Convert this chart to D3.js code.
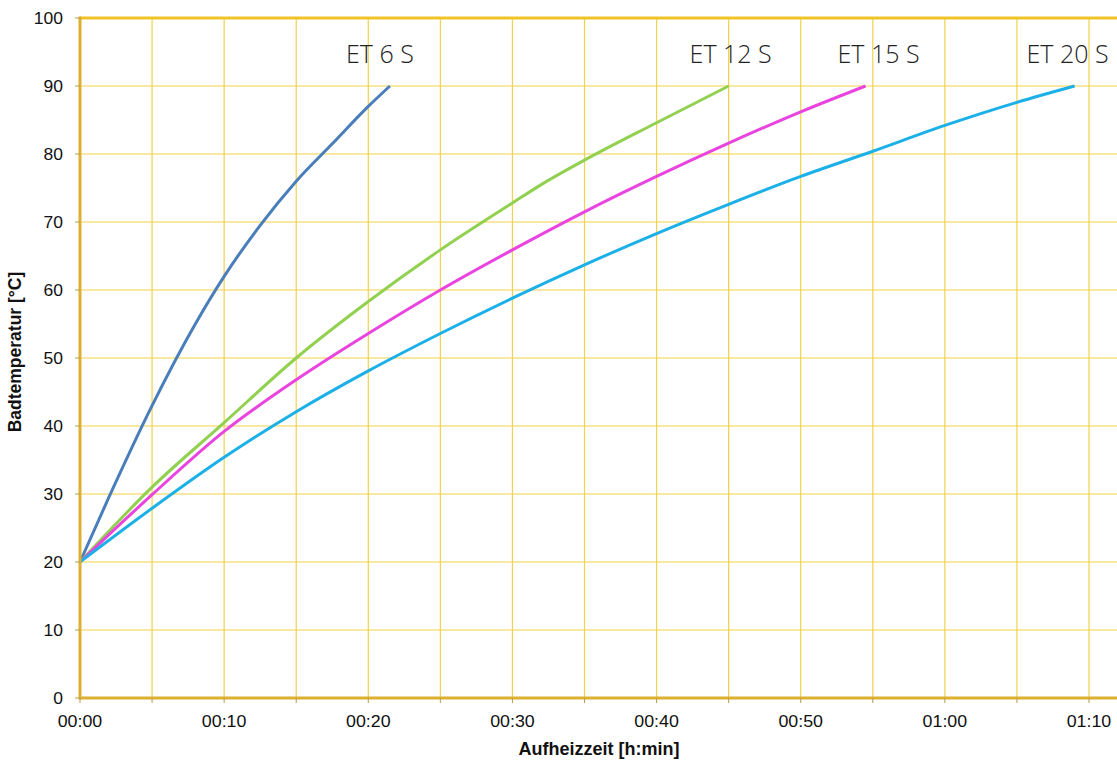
<!DOCTYPE html>
<html><head><meta charset="utf-8">
<script src="https://cdn.jsdelivr.net/npm/d3@7"></script>
<style>
html,body{margin:0;padding:0;background:#fff;overflow:hidden;}
svg{display:block;}
</style></head>
<body>
<script>
// ---- data ----
const seriesNames = ["ET 6 S", "ET 12 S", "ET 15 S", "ET 20 S"];
const et6Time  = [0, 2, 5, 8, 10, 12.5, 15, 17.5, 20, 21.5];
const et6Temp  = [20, 29.5, 43, 55, 62, 69.5, 76, 81.5, 87, 90];
const et12Time = [0, 5, 10, 15, 20, 25, 30, 32, 35, 40, 45];
const et12Temp = [20, 31, 40.5, 50, 58.3, 65.9, 72.8, 75.5, 79.1, 84.6, 90];
const et15Time = [0, 5, 10, 15, 20, 25, 30, 35, 40, 45, 50, 54.5];
const et15Temp = [20, 29.9, 39.2, 46.8, 53.6, 60, 65.9, 71.5, 76.7, 81.6, 86.2, 90];
const et20Time = [0, 5, 10, 15, 20, 25, 30, 35, 40, 45, 50, 55, 60, 65, 69];
const et20Temp = [20, 27.9, 35.4, 42.1, 48.1, 53.6, 58.8, 63.7, 68.3, 72.6, 76.7, 80.4, 84.2, 87.6, 90];
const xTickValues = [0, 10, 20, 30, 40, 50, 60, 70];
const xTickLabels = ["00:00", "00:10", "00:20", "00:30", "00:40", "00:50", "01:00", "01:10"];
const yTickValues = [0, 10, 20, 30, 40, 50, 60, 70, 80, 90, 100];
const xTitle = "Aufheizzeit [h:min]";
const yTitle = "Badtemperatur [°C]";

// ---- style / layout ----
const colors = ["#4a7ebb", "#92d050", "#ea44e0", "#1cb0e8"];
const labelOffsets = [-10, 2, 13, -7]; // px relative to end point
const W = 1117, H = 760;
const mLeft = 80, mTop = 18, mBottom = 698;
const x = d3.scaleLinear().domain([0, 70]).range([mLeft, 1089]);
const y = d3.scaleLinear().domain([0, 100]).range([mBottom, mTop]);

const svg = d3.select("body").append("svg").attr("width", W).attr("height", H);

const gridColor = "#f2d24a";
const axisColor = "#dcb030";

// vertical grid every 5 min
const xGrid = d3.range(5, 75, 5);
svg.append("g").selectAll("line").data(xGrid).join("line")
  .attr("x1", d => x(d)).attr("x2", d => x(d))
  .attr("y1", mTop).attr("y2", mBottom)
  .attr("stroke", gridColor).attr("stroke-width", 1.2);
// horizontal grid
svg.append("g").selectAll("line").data(yTickValues.slice(1, -1)).join("line")
  .attr("x1", mLeft).attr("x2", W + 5)
  .attr("y1", d => y(d)).attr("y2", d => y(d))
  .attr("stroke", gridColor).attr("stroke-width", 1.2);

// series
const series = [
  [et6Time, et6Temp], [et12Time, et12Temp], [et15Time, et15Temp], [et20Time, et20Temp]
];
const line = d3.line().x(d => x(d[0])).y(d => y(d[1])).curve(d3.curveMonotoneX);
series.forEach((s, i) => {
  const pts = s[0].map((t, k) => [t, s[1][k]]);
  svg.append("path").datum(pts).attr("d", line)
    .attr("fill", "none").attr("stroke", colors[i]).attr("stroke-width", 3)
    .attr("stroke-linejoin", "round").attr("stroke-linecap", "butt");
  const last = pts[pts.length - 1];
  svg.append("text")
    .attr("x", x(last[0]) + labelOffsets[i]).attr("y", 63)
    .attr("text-anchor", "middle")
    .attr("font-family", "'Open Sans', Lato, sans-serif")
    .attr("font-weight", 300)
    .attr("font-size", 25)
    .attr("fill", "#222")
    .text(seriesNames[i]);
});

// frame lines
svg.append("line").attr("x1", mLeft).attr("x2", W + 5).attr("y1", mTop).attr("y2", mTop)
  .attr("stroke", "#f0c428").attr("stroke-width", 3);
svg.append("line").attr("x1", mLeft).attr("x2", W + 5).attr("y1", mBottom).attr("y2", mBottom)
  .attr("stroke", axisColor).attr("stroke-width", 3);
svg.append("line").attr("x1", mLeft).attr("x2", mLeft).attr("y1", mTop - 1.5).attr("y2", mBottom + 1.5)
  .attr("stroke", axisColor).attr("stroke-width", 3);

// tick marks
svg.append("g").selectAll("line").data(d3.range(0, 75, 5)).join("line")
  .attr("x1", d => x(d)).attr("x2", d => x(d)).attr("y1", mBottom).attr("y2", mBottom + 5)
  .attr("stroke", "#b89a50").attr("stroke-width", 1);
svg.append("g").selectAll("line").data(yTickValues).join("line")
  .attr("x1", mLeft - 5).attr("x2", mLeft).attr("y1", d => y(d)).attr("y2", d => y(d))
  .attr("stroke", "#b89a50").attr("stroke-width", 1);

// tick labels
svg.append("g").selectAll("text").data(xTickValues).join("text")
  .attr("transform", d => `translate(${x(d)},727) scale(1.08,1)`)
  .attr("text-anchor", "middle")
  .attr("font-family", "'Liberation Sans', Arial, sans-serif")
  .attr("font-size", 16.5).attr("fill", "#111")
  .text((d, i) => xTickLabels[i]);
svg.append("g").selectAll("text").data(yTickValues).join("text")
  .attr("transform", d => `translate(63,${y(d) + 6}) scale(1.06,1)`)
  .attr("text-anchor", "end")
  .attr("font-family", "'Liberation Sans', Arial, sans-serif")
  .attr("font-size", 16.5).attr("fill", "#111")
  .text(d => d);

// axis titles
svg.append("text")
  .attr("transform", "translate(599,755)")
  .attr("text-anchor", "middle")
  .attr("font-family", "'Liberation Sans', Arial, sans-serif")
  .attr("font-weight", "bold").attr("font-size", 18).attr("fill", "#111")
  .text(xTitle);
svg.append("text")
  .attr("transform", "translate(21,352) rotate(-90)")
  .attr("text-anchor", "middle")
  .attr("font-family", "'Liberation Sans', Arial, sans-serif")
  .attr("font-weight", "bold").attr("font-size", 17.5).attr("fill", "#111")
  .text(yTitle);
</script>
</body></html>
